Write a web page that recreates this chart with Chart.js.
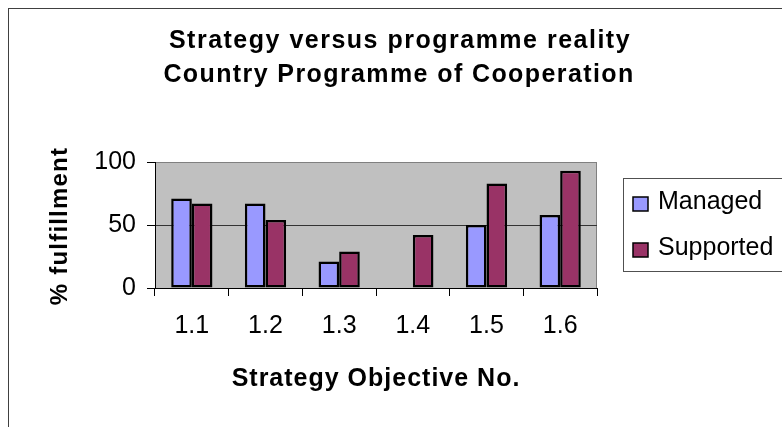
<!DOCTYPE html>
<html lang="en">
<head>
<meta charset="UTF-8">
<title>Strategy versus programme reality</title>
<script src="https://cdn.jsdelivr.net/npm/chart.js"></script>
<style>
    html, body { margin: 0; padding: 0; background: #fff; }
    #wrap { width: 782px; height: 427px; }
</style>
</head>
<body>
<div id="wrap"><canvas id="chart" width="782" height="427"></canvas></div>
<script>
    // data
    const objectives = ['1.1', '1.2', '1.3', '1.4', '1.5', '1.6'];
    const managed = [71, 67, 21, 0, 50, 58];
    const supported = [67, 54, 29, 42, 83, 93];
    const yTicks = [0, 50, 100];

    const titleLines = ['Strategy versus programme reality', 'Country Programme of Cooperation'];
    const xTitle = 'Strategy Objective No.';
    const yTitle = '% fulfillment';

    const FONT = "'Liberation Sans', Arial, sans-serif";

    // gray plot area, outer frame, titles and boxed legend
    const decor = {
        id: 'decor',
        beforeDraw(chart) {
            const ctx = chart.ctx;
            const a = chart.chartArea;
            ctx.save();
            ctx.fillStyle = '#C0C0C0';
            ctx.fillRect(a.left, a.top, a.right - a.left, a.bottom - a.top);
            ctx.strokeStyle = '#808080';
            ctx.lineWidth = 1;
            ctx.beginPath();
            ctx.moveTo(a.left, a.top + 0.5);
            ctx.lineTo(a.right - 0.5, a.top + 0.5);
            ctx.lineTo(a.right - 0.5, a.bottom);
            ctx.stroke();
            // outer frame
            ctx.strokeStyle = '#404040';
            ctx.strokeRect(8.5, 8.5, 900, 600);
            ctx.restore();
        },
        afterDraw(chart) {
            const ctx = chart.ctx;
            ctx.save();
            ctx.fillStyle = '#000';
            ctx.font = 'bold 25px ' + FONT;
            ctx.textAlign = 'center';
            ctx.textBaseline = 'alphabetic';
            ctx.letterSpacing = '1.5px';
            ctx.fillText(titleLines[0], 400, 48);
            ctx.letterSpacing = '1.4px';
            ctx.fillText(titleLines[1], 399, 82);

            ctx.letterSpacing = '1px';
            ctx.fillText(xTitle, 376, 386);

            ctx.save();
            ctx.translate(67, 226);
            ctx.rotate(-Math.PI / 2);
            ctx.font = 'bold 24px ' + FONT;
            ctx.letterSpacing = '1.2px';
            ctx.fillText(yTitle, 0, 0);
            ctx.restore();

            // legend
            ctx.letterSpacing = '0px';
            ctx.strokeStyle = '#505050';
            ctx.lineWidth = 1;
            ctx.strokeRect(623.5, 178.5, 300, 93);
            ctx.font = '25px ' + FONT;
            ctx.textAlign = 'left';
            const rows = [209, 255];
            chart.data.datasets.forEach(function (ds, i) {
                const y = rows[i];
                ctx.fillStyle = ds.backgroundColor;
                ctx.fillRect(633, y - 12, 15, 14);
                ctx.strokeStyle = '#000';
                ctx.lineWidth = 1.5;
                ctx.strokeRect(633, y - 12, 15, 14);
                ctx.fillStyle = '#000';
                ctx.fillText(ds.label, 658, y);
            });
            ctx.restore();
        }
    };

    new Chart(document.getElementById('chart'), {
        type: 'bar',
        data: {
            labels: objectives,
            datasets: [{
                label: 'Managed',
                data: managed,
                backgroundColor: '#9999FF',
                borderColor: '#000',
                borderWidth: 2.5,
                borderSkipped: false
            }, {
                label: 'Supported',
                data: supported,
                backgroundColor: '#993366',
                borderColor: '#000',
                borderWidth: 2.5,
                borderSkipped: false
            }]
        },
        options: {
            responsive: false,
            animation: false,
            layout: { padding: { top: 162, left: 0, right: 185, bottom: 0 } },
            categoryPercentage: 0.56,
            barPercentage: 1.0,
            plugins: {
                legend: { display: false },
                title: { display: false },
                tooltip: { enabled: false }
            },
            scales: {
                x: {
                    grid: { drawOnChartArea: false, tickLength: 8, color: '#000', offset: true },
                    border: { color: '#000', width: 1 },
                    ticks: { color: '#000', font: { family: FONT, size: 25 }, padding: 15 },
                    afterFit(scale) { scale.height = 139; }
                },
                y: {
                    min: 0,
                    max: 100,
                    afterBuildTicks(scale) { scale.ticks = yTicks.map(v => ({ value: v })); },
                    grid: {
                        tickLength: 8,
                        tickColor: '#000',
                        color: ctx => (ctx.tick && ctx.tick.value === 100) ? '#808080' : '#333'
                    },
                    border: { color: '#000', width: 1 },
                    ticks: { color: '#000', font: { family: FONT, size: 25 }, padding: 11 },
                    afterFit(scale) { scale.width = 155; }
                }
            }
        },
        plugins: [decor]
    });
</script>
</body>
</html>
